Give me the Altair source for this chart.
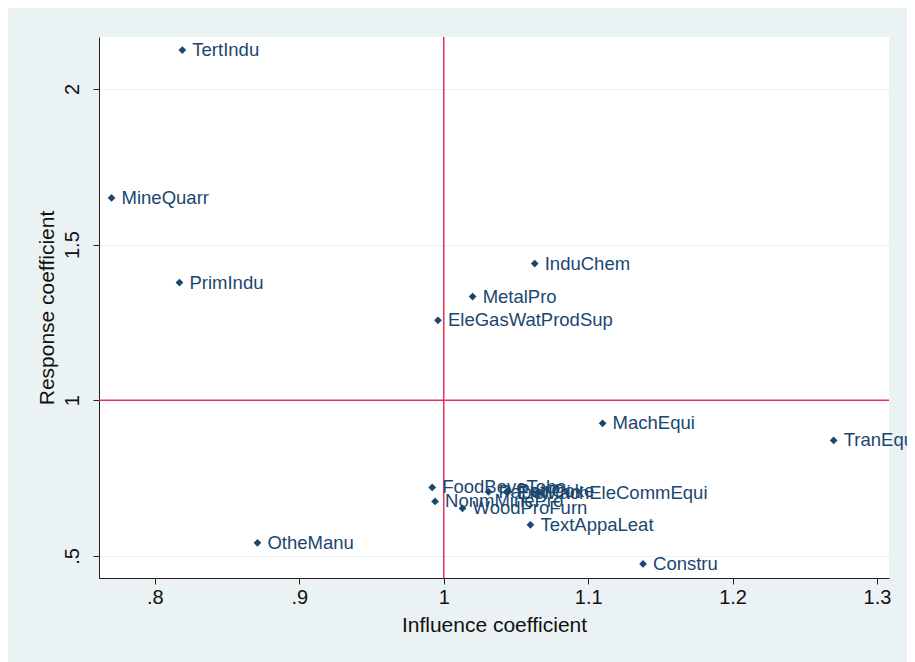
import altair as alt
import pandas as pd

sectors = ["TertIndu", "MineQuarr", "PrimIndu", "InduChem", "MetalPro",
           "EleGasWatProdSup", "MachEqui", "TranEqui", "FoodBeveToba",
           "NonmMinePro", "WoodProFurn", "PaperPrin", "PetrCoke",
           "EleMachEleCommEqui", "TextAppaLeat", "OtheManu", "Constru"]
influence = [0.819, 0.770, 0.817, 1.063, 1.020, 0.996, 1.110, 1.270, 0.992,
             0.994, 1.013, 1.031, 1.044, 1.044, 1.060, 0.871, 1.138]
response = [2.125, 1.650, 1.378, 1.439, 1.333, 1.257, 0.926, 0.871, 0.720,
            0.675, 0.653, 0.706, 0.708, 0.703, 0.600, 0.542, 0.474]

x_ticks = [0.8, 0.9, 1.0, 1.1, 1.2, 1.3]
y_ticks = [0.5, 1.0, 1.5, 2.0]
ref_x = [1.0]
ref_y = [1.0]

df = pd.DataFrame({"sector": sectors, "infl": influence, "resp": response})

xscale = alt.Scale(domain=[0.7613, 1.3083], nice=False, zero=False)
yscale = alt.Scale(domain=[0.429, 2.167], nice=False, zero=False)

lbl = "datum.value < 1 ? substring(format(datum.value, '.1f'), 1) : format(datum.value, '~g')"

FONT = "Liberation Sans"
NAVY = "#1a476f"
RED = "#e8305c"

x_enc = alt.X("infl:Q", scale=xscale, title="Influence coefficient",
              axis=alt.Axis(values=x_ticks, labelExpr=lbl, grid=False,
                            labelFontSize=20, titleFontSize=21,
                            labelPadding=3, titlePadding=7, tickSize=6,
                            domainColor="#222222", tickColor="#222222",
                            labelColor="#111111", titleColor="#111111",
                            labelFont=FONT, titleFont=FONT,
                            titleFontWeight="normal"))
y_enc = alt.Y("resp:Q", scale=yscale, title="Response coefficient",
              axis=alt.Axis(values=y_ticks, labelExpr=lbl, grid=True,
                            gridColor="#eaf2f3", gridWidth=1.2,
                            labelAngle=270, labelAlign="center",
                            labelBaseline="bottom",
                            labelFontSize=20, titleFontSize=21,
                            labelPadding=11, titlePadding=5, tickSize=6,
                            domainColor="#222222", tickColor="#222222",
                            labelColor="#111111", titleColor="#111111",
                            labelFont=FONT, titleFont=FONT,
                            titleFontWeight="normal"))

base = alt.Chart(df)

points = base.mark_point(shape="diamond", filled=True, size=60,
                         color=NAVY, opacity=1).encode(x=x_enc, y=y_enc)

labels = base.mark_text(align="left", baseline="middle", dx=10, dy=0,
                        fontSize=18.5, font=FONT, color=NAVY).encode(
    x=alt.X("infl:Q", scale=xscale), y=alt.Y("resp:Q", scale=yscale),
    text="sector:N")

vline = alt.Chart(pd.DataFrame({"v": ref_x})).mark_rule(
    color=RED, strokeWidth=1.5).encode(x=alt.X("v:Q", scale=xscale))
hline = alt.Chart(pd.DataFrame({"v": ref_y})).mark_rule(
    color=RED, strokeWidth=1.5).encode(y=alt.Y("v:Q", scale=yscale))

chart = alt.layer(vline, hline, points, labels).properties(
    width=790, height=541,
    background="#eaf2f3",
    padding={"left": 91, "top": 29, "right": 18, "bottom": 84},
    autosize=alt.AutoSizeParams(type="none"),
).configure_view(fill="white", stroke=None)

chart.save("out.html", embed_options={"renderer": "svg", "actions": False})
